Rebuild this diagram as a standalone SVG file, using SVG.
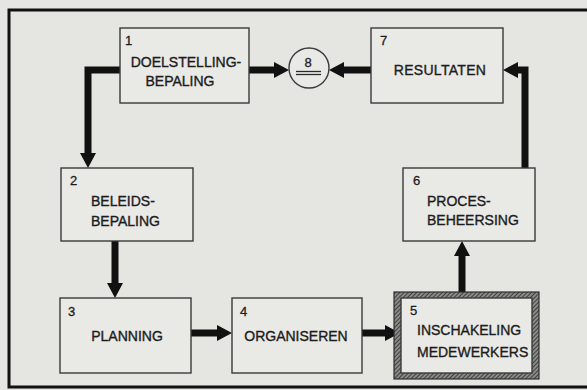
<svg xmlns="http://www.w3.org/2000/svg" width="587" height="390" viewBox="0 0 587 390">
<defs>
<style>
.bg{fill:#e5e5e2}
.box{fill:#e9e9e6;stroke:#3a3a3a;stroke-width:1.4}
.t{font-family:"Liberation Sans",Arial,sans-serif;font-size:14px;fill:#1c1c1c;stroke:#1c1c1c;stroke-width:0.35}
.n{font-family:"Liberation Sans",Arial,sans-serif;font-size:13px;fill:#1c1c1c;stroke:#1c1c1c;stroke-width:0.3}
.c{text-anchor:middle}
.con{fill:none;stroke:#111;stroke-width:7;stroke-linejoin:miter;marker-end:url(#ah)}
</style>
<marker id="ah" markerUnits="userSpaceOnUse" markerWidth="15" markerHeight="16" refX="5" refY="8" orient="auto">
<path d="M0,0 L15,8 L0,16 z" fill="#111"/>
</marker>
<pattern id="hatch" patternUnits="userSpaceOnUse" width="3" height="3" patternTransform="rotate(45)">
<rect width="3" height="3" fill="#8a8a88"/>
<line x1="0" y1="0" x2="0" y2="3" stroke="#2e2e2e" stroke-width="1.6"/>
</pattern>
</defs>
<rect class="bg" x="0" y="0" width="587" height="390"/>
<path d="M587,10 L9,10 L9,387 L587,387" fill="none" stroke="#111" stroke-width="3"/>

<g id="connectors">
<path class="con" d="M249,70 L279,70"/>
<path class="con" d="M371,70 L339,70"/>
<path class="con" d="M525,168 L525,70 L513,70"/>
<path class="con" d="M462,292 L462,251"/>
<path class="con" d="M120,70 L88,70 L88,158"/>
<path class="con" d="M115,241 L115,288"/>
<path class="con" d="M191,333 L222,333"/>
<path class="con" d="M362,333 L390,333"/>
</g>

<g id="node1">
<rect class="box" x="120" y="28" width="129" height="75"/>
<text class="n" x="125" y="45">1</text>
<text class="t c" x="186" y="67">DOELSTELLING-</text>
<text class="t c" x="180" y="86">BEPALING</text>
</g>

<g id="node8">
<circle cx="309" cy="68" r="20" fill="#e9e9e6" stroke="#3a3a3a" stroke-width="1.4"/>
<text class="n c" x="308" y="67">8</text>
<line x1="296" y1="71.5" x2="321" y2="71.5" stroke="#2a2a2a" stroke-width="1.3"/>
<line x1="296" y1="74.5" x2="321" y2="74.5" stroke="#2a2a2a" stroke-width="1.3"/>
</g>

<g id="node7">
<rect class="box" x="371" y="28" width="132" height="75"/>
<text class="n" x="380" y="45">7</text>
<text class="t c" x="440" y="75" style="letter-spacing:0.3px">RESULTATEN</text>
</g>

<g id="node2">
<rect class="box" x="61" y="168" width="132" height="73"/>
<text class="n" x="70" y="185">2</text>
<text class="t" x="91" y="206">BELEIDS-</text>
<text class="t" x="91" y="226">BEPALING</text>
</g>

<g id="node6">
<rect class="box" x="403" y="168" width="132" height="73"/>
<text class="n" x="413" y="185">6</text>
<text class="t" x="427" y="206">PROCES-</text>
<text class="t" x="427" y="225">BEHEERSING</text>
</g>

<g id="node3">
<rect class="box" x="60" y="298" width="131" height="75"/>
<text class="n" x="68" y="316">3</text>
<text class="t c" x="127" y="341">PLANNING</text>
</g>

<g id="node4">
<rect class="box" x="232" y="298" width="130" height="75"/>
<text class="n" x="240" y="316">4</text>
<text class="t c" x="296" y="341">ORGANISEREN</text>
</g>

<g id="node5">
<rect x="394" y="292" width="145" height="87" fill="url(#hatch)" stroke="#2e2e2e" stroke-width="1.2"/>
<rect class="box" x="401" y="298" width="131" height="75"/>
<text class="n" x="410" y="315">5</text>
<text class="t" x="417" y="335">INSCHAKELING</text>
<text class="t" x="417" y="357">MEDEWERKERS</text>
</g>
</svg>
